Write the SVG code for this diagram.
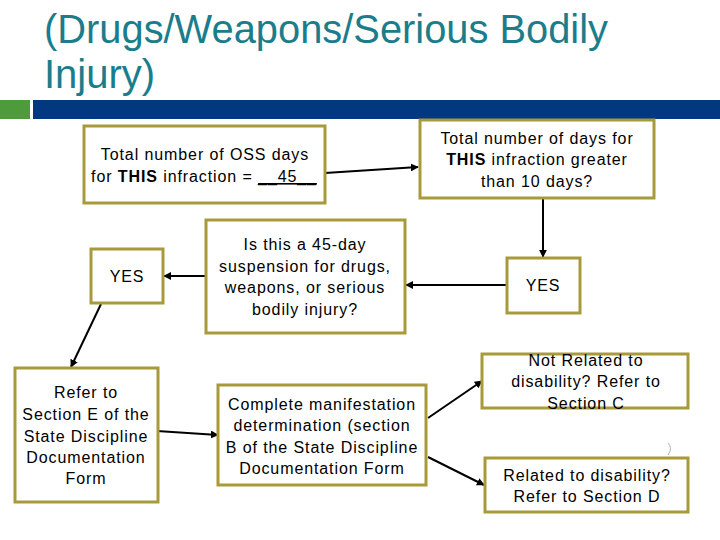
<svg xmlns="http://www.w3.org/2000/svg" width="720" height="540" viewBox="0 0 720 540">
<defs>
<style>
.title{font-family:"Liberation Sans",Arial,sans-serif;font-size:40px;fill:#1b7d8c}
.box{fill:#ffffff;stroke:#a89a3b;stroke-width:3}
.t{font-family:"Liberation Sans",Arial,sans-serif;font-size:16px;letter-spacing:0.9px;fill:#000;text-anchor:middle}
.c{stroke:#000;stroke-width:2;fill:none;marker-end:url(#ah)}
</style>
<marker id="ah" viewBox="0 0 10 10" refX="9" refY="5" markerWidth="4" markerHeight="4" orient="auto" markerUnits="strokeWidth">
<path d="M0,0 L10,5 L0,10 z" fill="#000"/>
</marker>
</defs>
<rect width="720" height="540" fill="#ffffff"/>
<g id="title">
<text class="title" x="44" y="43" textLength="564" lengthAdjust="spacingAndGlyphs">(Drugs/Weapons/Serious Bodily</text>
<text class="title" x="44" y="88">Injury)</text>
<rect x="0" y="100" width="30" height="19" fill="#4e9b3c"/>
<rect x="33" y="100" width="687" height="19" fill="#01387f"/>
</g>
<g id="connectors">
<line class="c" x1="325" y1="173" x2="418" y2="167"/>
<line class="c" x1="543" y1="199" x2="543" y2="257"/>
<line class="c" x1="507" y1="285" x2="406" y2="285"/>
<line class="c" x1="206" y1="276" x2="164" y2="276"/>
<line class="c" x1="101" y1="304" x2="71" y2="367"/>
<line class="c" x1="157" y1="431" x2="218" y2="435"/>
<line class="c" x1="428" y1="418" x2="482" y2="381"/>
<line class="c" x1="428" y1="457" x2="484" y2="485"/>
</g>
<g id="oss">
<rect class="box" x="84" y="126" width="241" height="77"/>
<text class="t" x="205" y="160">Total number of OSS days</text>
<text class="t" x="204" y="182">for <tspan font-weight="bold">THIS</tspan> infraction = <tspan text-decoration="underline">__45__</tspan></text>
</g>
<g id="greater">
<rect class="box" x="420" y="120" width="234" height="78"/>
<text class="t" x="537" y="144">Total number of days for</text>
<text class="t" x="537" y="165"><tspan font-weight="bold">THIS</tspan> infraction greater</text>
<text class="t" x="537" y="187">than 10 days?</text>
</g>
<g id="question">
<rect class="box" x="206" y="220" width="199" height="113"/>
<text class="t" x="305" y="250">Is this a 45-day</text>
<text class="t" x="305" y="272">suspension for drugs,</text>
<text class="t" x="305" y="293">weapons, or serious</text>
<text class="t" x="305" y="315">bodily injury?</text>
</g>
<g id="yes-left">
<rect class="box" x="91" y="249" width="72" height="54"/>
<text class="t" x="127" y="282">YES</text>
</g>
<g id="yes-right">
<rect class="box" x="507" y="258" width="73" height="55"/>
<text class="t" x="543" y="291">YES</text>
</g>
<g id="refer-e">
<rect class="box" x="15" y="368" width="143" height="134"/>
<text class="t" x="86" y="398">Refer to</text>
<text class="t" x="86" y="420">Section E of the</text>
<text class="t" x="86" y="442">State Discipline</text>
<text class="t" x="86" y="463">Documentation</text>
<text class="t" x="86" y="484">Form</text>
</g>
<g id="manifestation">
<rect class="box" x="218" y="385" width="208" height="100"/>
<text class="t" x="322" y="410">Complete manifestation</text>
<text class="t" x="322" y="431">determination (section</text>
<text class="t" x="322" y="453">B of the State Discipline</text>
<text class="t" x="322" y="474">Documentation Form</text>
</g>
<g id="not-related">
<rect class="box" x="482" y="354" width="206" height="54"/>
<text class="t" x="586" y="366">Not Related to</text>
<text class="t" x="586" y="387">disability? Refer to</text>
<text class="t" x="586" y="409">Section C</text>
</g>
<g id="related">
<rect class="box" x="485" y="458" width="203" height="54"/>
<text class="t" x="587" y="481">Related to disability?</text>
<text class="t" x="587" y="502">Refer to Section D</text>
</g>
<path d="M668,443 Q673,448 668,455" stroke="#b0b0b0" stroke-width="1" fill="none"/>
</svg>
